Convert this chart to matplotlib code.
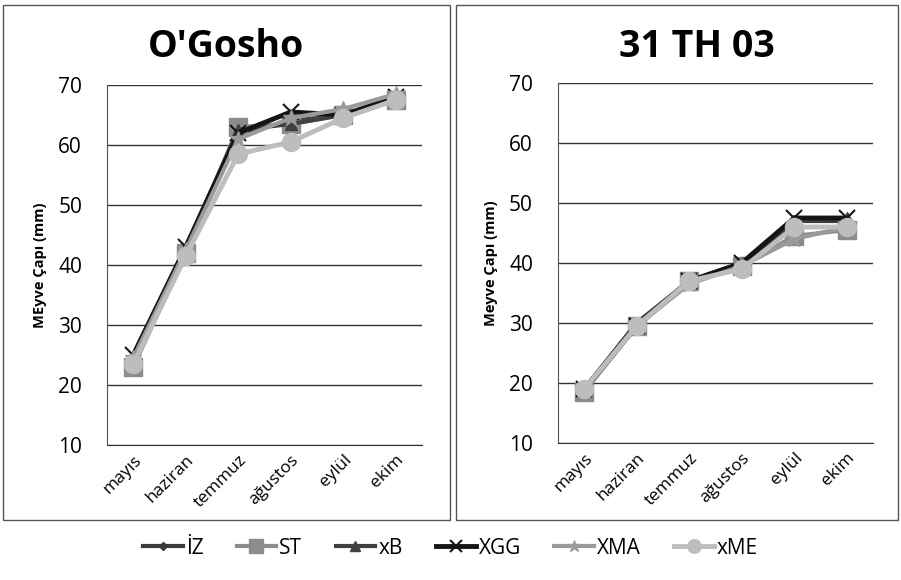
import matplotlib.pyplot as plt
from matplotlib.patches import Rectangle

months = ['mayıs', 'haziran', 'temmuz', 'ağustos', 'eylül', 'ekim']
names = ['İZ', 'ST', 'xB', 'XGG', 'XMA', 'xME']

# O'Gosho
og_iz = [24, 42.5, 62, 64, 65, 67.5]
og_st = [23, 42, 63, 63.5, 65, 67.5]
og_xb = [24, 43, 62.5, 63.5, 65, 67.5]
og_xgg = [25, 43, 62, 65.5, 65, 68]
og_xma = [24.5, 42.5, 61, 64.5, 66, 68.5]
og_xme = [23.5, 41.5, 58.5, 60.5, 64.5, 67.5]

# 31 TH 03
th_iz = [19, 30, 37, 39.5, 47, 47]
th_st = [18.5, 29.5, 37, 39.5, 44.5, 45.5]
th_xb = [19, 30, 37, 40, 47, 47.5]
th_xgg = [19, 29.5, 37, 40, 47.5, 47.5]
th_xma = [19, 29.5, 36.5, 39.5, 44, 46]
th_xme = [19, 29.5, 37, 39, 46, 46]

styles = [
    dict(color='#3a3a3a', marker='D', ms=6, lw=3),
    dict(color='#8c8c8c', marker='s', ms=13, lw=3),
    dict(color='#404040', marker='^', ms=9, lw=3),
    dict(color='#151515', marker='x', ms=11, lw=3.5, mew=1.5),
    dict(color='#9a9a9a', marker='*', ms=12, lw=3),
    dict(color='#bdbdbd', marker='o', ms=13, lw=3.5),
]

plt.rcParams['font.family'] = ['Open Sans', 'DejaVu Sans']

fig = plt.figure(figsize=(9.01, 5.80), dpi=100)

# panel frames
fig.patches.append(Rectangle((3/901, 60/580), 447/901, 515/580, transform=fig.transFigure,
                             fill=False, ec='#555555', lw=1))
fig.patches.append(Rectangle((456/901, 60/580), 442/901, 515/580, transform=fig.transFigure,
                             fill=False, ec='#555555', lw=1))

panels = [
    ([107/901, 135/580, 315/901, 360/580], "O'Gosho", 226, 'MEyve Çapı (mm)',
     [og_iz, og_st, og_xb, og_xgg, og_xma, og_xme]),
    ([558/901, 137/580, 315/901, 360/580], '31 TH 03', 697, 'Meyve Çapı (mm)',
     [th_iz, th_st, th_xb, th_xgg, th_xma, th_xme]),
]

handles = []
for rect, title, tx, ylab, series in panels:
    ax = fig.add_axes(rect)
    x = range(len(months))
    hs = []
    for vals, st, nm in zip(series, styles, names):
        h, = ax.plot(x, vals, label=nm, **st)
        hs.append(h)
    handles = hs
    ax.set_xlim(-0.5, 5.5)
    ax.set_ylim(10, 70)
    ax.set_yticks(range(10, 71, 10))
    ax.set_xticks(list(x))
    ax.set_xticklabels(months, rotation=45, ha='right', rotation_mode='anchor', fontsize=12.5)
    ax.tick_params(axis='y', labelsize=15, length=0, pad=18)
    ax.tick_params(axis='x', length=0, pad=5)
    ax.grid(axis='y', color='#333333', lw=1)
    ax.set_axisbelow(True)
    for s in ['top', 'right']:
        ax.spines[s].set_visible(False)
    ax.spines['left'].set_color('#555555')
    ax.spines['bottom'].set_color('#333333')
    ax.set_ylabel(ylab, fontsize=10.5, fontweight='bold', labelpad=8)
    fig.text(tx/901, 1 - 47/580, title, fontsize=27, fontweight='bold',
             ha='center', va='center')

fig.legend(handles=handles, labels=names, loc='center', bbox_to_anchor=(0.5, 32/580),
           ncol=6, frameon=False, fontsize=15, handlelength=1.9, columnspacing=1.6,
           handletextpad=0.15, markerscale=0.75)

fig.savefig('out.png', dpi=100)
